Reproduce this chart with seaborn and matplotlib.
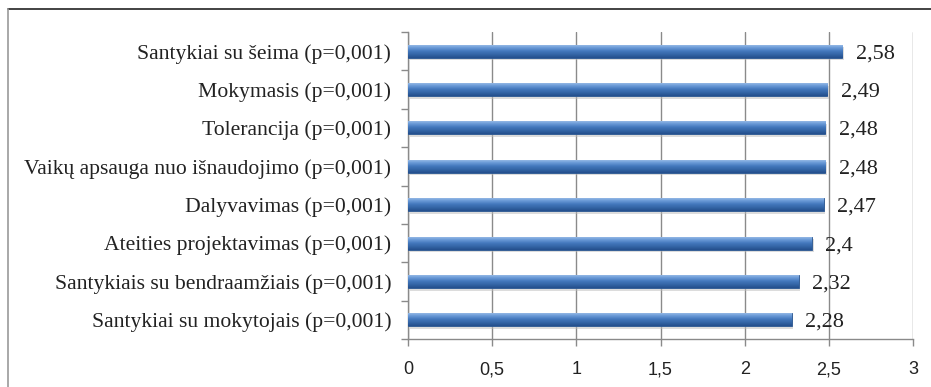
import numpy as np
import matplotlib
matplotlib.use("Agg")
import matplotlib.pyplot as plt
from matplotlib.lines import Line2D
import seaborn as sns
import pandas as pd

categories = [
    "Santykiai su šeima (p=0,001)",
    "Mokymasis (p=0,001)",
    "Tolerancija (p=0,001)",
    "Vaikų apsauga nuo išnaudojimo (p=0,001)",
    "Dalyvavimas (p=0,001)",
    "Ateities projektavimas (p=0,001)",
    "Santykiais su bendraamžiais (p=0,001)",
    "Santykiai su mokytojais (p=0,001)",
]
values = [2.58, 2.49, 2.48, 2.48, 2.47, 2.4, 2.32, 2.28]
x_ticks = [0, 0.5, 1, 1.5, 2, 2.5, 3]
x_tick_labels = ["0", "0,5", "1", "1,5", "2", "2,5", "3"]

df = pd.DataFrame({"category": categories, "value": values})

sns.set_theme(style="white")
plt.rcParams["font.family"] = ["Liberation Serif", "DejaVu Serif"]

fig = plt.figure(figsize=(9.31, 3.87), dpi=100)
ax = fig.add_axes([408 / 931, 1 - 339 / 387, 505 / 931, 307 / 387])

sns.barplot(data=df, x="value", y="category", orient="h", ax=ax,
            color="#3b6fb4", width=0.34, saturation=1, zorder=3)

# cylinder-like shading: gradient clipped to each bar, plus a soft shadow
grad = np.linspace(0, 1, 64).reshape(-1, 1)
cmap = matplotlib.colors.LinearSegmentedColormap.from_list(
    "bar", ["#a3c2ea", "#6b9bd8", "#4478bd", "#3465a6", "#244f8c"])
for p in list(ax.patches):
    x0, y0 = p.get_x(), p.get_y()
    w, h = p.get_width(), p.get_height()
    sh = plt.Rectangle((x0 + 0.01, y0 + h * 0.2), w, h, color="#bbbbbb",
                       alpha=0.5, zorder=2, lw=0)
    ax.add_patch(sh)
    im = ax.imshow(grad, extent=(x0, x0 + w, y0 + h, y0), aspect="auto",
                   cmap=cmap, zorder=4, interpolation="bilinear")
    im.set_clip_path(p)
    p.set_edgecolor("#2a5590")
    p.set_linewidth(0.6)

for i, v in enumerate(values):
    ax.text(v + 0.08, i, f"{v:g}".replace(".", ","), va="center_baseline",
            ha="left", fontsize=16, color="#222222", zorder=5)

ax.set_xlim(0, 3)
ax.set_ylim(len(categories) - 0.5, -0.5)
ax.set_xticks(x_ticks)
ax.set_xticklabels(x_tick_labels, family=["Liberation Sans", "DejaVu Sans"],
                   fontsize=13, color="#222222")
ax.set_yticks(range(len(categories)))
ax.set_yticklabels(categories, fontsize=15.6, color="#222222")
ax.set_xlabel("")
ax.set_ylabel("")

ax.grid(axis="x", color="#8a8a8a", linewidth=1, zorder=0)
ax.set_axisbelow(True)
for s in ["top", "right"]:
    ax.spines[s].set_visible(False)
for s in ["left", "bottom"]:
    ax.spines[s].set_color("#8a8a8a")
    ax.spines[s].set_linewidth(1)

# y-axis ticks sit on category boundaries
ax.set_yticks(np.arange(-0.5, len(categories)), minor=True)
ax.tick_params(axis="y", which="major", length=0, pad=12)
ax.tick_params(axis="y", which="minor", length=5, color="#8a8a8a", width=1, left=True)
ax.tick_params(axis="x", which="major", length=5, color="#8a8a8a", width=1,
               bottom=True, pad=11)

# outer frame: top and left edges
fig.add_artist(Line2D([8 / 931, 1], [1 - 9 / 387, 1 - 9 / 387],
                      transform=fig.transFigure, color="#222222", lw=1.2))
fig.add_artist(Line2D([8 / 931, 8 / 931], [0, 1 - 9 / 387],
                      transform=fig.transFigure, color="#999999", lw=1.2))

fig.savefig("out.png", dpi=100)
